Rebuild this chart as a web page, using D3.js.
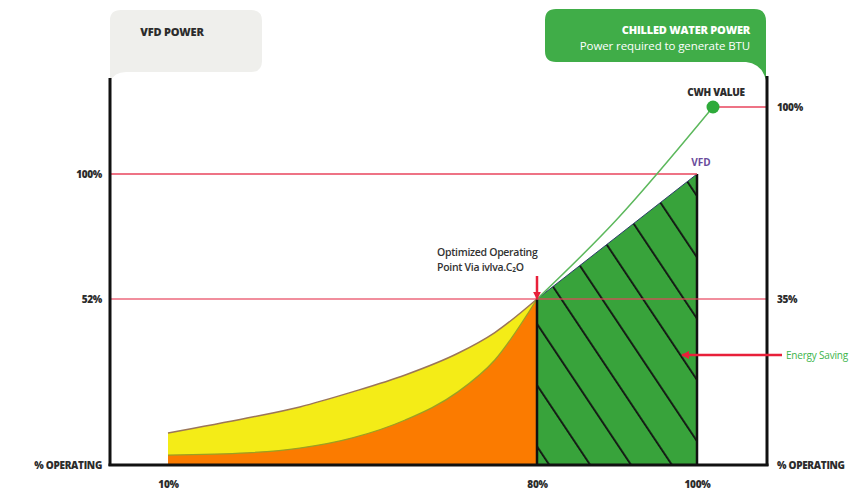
<!DOCTYPE html>
<html><head><meta charset="utf-8">
<script src="https://cdn.jsdelivr.net/npm/d3@7"></script>
<style>
body{margin:0;background:#fff;}
svg{display:block;font-family:"Open Sans",Lato,sans-serif;}
</style></head>
<body>
<svg id="c" width="860" height="493"></svg>
<script>
// ---- data ----
const xTicks = [10, 80, 100];
const xTickLabels = ["10%", "80%", "100%"];
const leftTicks = [52, 100];
const leftTickLabels = ["52%", "100%"];
const rightTicks = [35, 100];
const rightTickLabels = ["35%", "100%"];
// yellow: upper bound of VFD power curve (left scale %)
const yellowX = [10, 25, 35, 45, 55, 65, 72, 80];
const yellowY = [10.0, 14.7, 18.2, 22.9, 28.2, 35.0, 41.5, 52];
// orange: optimized power curve (left scale %)
const orangeX = [10, 25, 35, 45, 55, 65, 72, 80];
const orangeY = [3.1, 3.8, 5.3, 8.5, 14.1, 22.9, 32.9, 52];
// VFD green region top (left scale %)
const vfdX = [80, 100];
const vfdY = [52, 100];
// chilled water power line (right scale %)
const cwhX = [80, 90, 102];
const cwhY = [35, 62, 100];
const cwhPoint = {x: 102, y: 100};

const svg = d3.select("#c");
const x = d3.scaleLinear().domain([10, 80, 100]).range([168, 537, 697]);
const yL = d3.scaleLinear().domain([0, 52, 100]).range([465, 299, 174]);
const yR = d3.scaleLinear().domain([0, 35, 100]).range([465, 299, 107]);

const RED = "#e8455c";
const DARK = "#2c2c2c";
const defs = svg.append("defs");
const pat = defs.append("pattern").attr("id", "hatch").attr("patternUnits", "userSpaceOnUse")
  .attr("width", 34).attr("height", 34)
  .attr("patternTransform", "translate(630,465) rotate(-33.7)");
pat.append("rect").attr("width", 34).attr("height", 34).attr("fill", "#38a33b");
pat.append("line").attr("x1", 0).attr("x2", 0).attr("y1", 0).attr("y2", 34)
  .attr("stroke", "#111").attr("stroke-width", 3.6);
defs.append("marker").attr("id", "arrowR").attr("viewBox", "0 0 10 10").attr("refX", 9).attr("refY", 5)
  .attr("markerWidth", 3.2).attr("markerHeight", 3.2).attr("orient", "auto-start-reverse")
  .append("path").attr("d", "M0,0L10,5L0,10Z").attr("fill", "#e8203a");

// callout boxes
svg.append("path")
  .attr("d", "M110,82 L110,20 Q110,10 121,10 L251,10 Q262,10 262,21 L262,61 Q262,72 251,72 L126,72 Q114,72 110,82 Z")
  .attr("fill", "#efefec");
svg.append("text").attr("x", 172).attr("y", 36).attr("text-anchor", "middle")
  .attr("font-size", 11).attr("font-weight", 800).attr("letter-spacing", -0.2).attr("fill", DARK).text("VFD POWER");

svg.append("path")
  .attr("d", "M545,20 Q545,9 556,9 L754,9 Q766,9 766,21 L766,80 Q762,64 746,62 L556,62 Q545,62 545,51 Z")
  .attr("fill", "#40ad48");
svg.append("text").attr("x", 750).attr("y", 34).attr("text-anchor", "end")
  .attr("font-size", 11).attr("font-weight", 800).attr("letter-spacing", -0.2).attr("fill", "#fff").text("CHILLED WATER POWER");
svg.append("text").attr("x", 750).attr("y", 50).attr("text-anchor", "end")
  .attr("font-size", 11.5).attr("letter-spacing", -0.1).attr("fill", "#fff").text("Power required to generate BTU");

// areas
const ptsY = yellowX.map((d, i) => [d, yellowY[i]]);
const ptsO = orangeX.map((d, i) => [d, orangeY[i]]);
const ptsV = vfdX.map((d, i) => [d, vfdY[i]]);
const area = d3.area().x(d => x(d[0])).y0(yL(0)).y1(d => yL(d[1])).curve(d3.curveMonotoneX);
const lineL = d3.line().x(d => x(d[0])).y(d => yL(d[1])).curve(d3.curveMonotoneX);

svg.append("path").datum(ptsY).attr("d", area).attr("fill", "#f4ec17");
svg.append("path").datum(ptsY).attr("d", lineL).attr("fill", "none").attr("stroke", "#9b7658").attr("stroke-width", 1.5);
svg.append("path").datum(ptsO).attr("d", area).attr("fill", "#fb7b00");
svg.append("path").datum(ptsO).attr("d", lineL).attr("fill", "none").attr("stroke", "#9aa023").attr("stroke-width", 1.3);

svg.append("path").datum(ptsV).attr("d", d3.area().x(d => x(d[0])).y0(yL(0)).y1(d => yL(d[1])))
  .attr("fill", "url(#hatch)");
svg.append("path").datum(ptsV).attr("d", d3.line().x(d => x(d[0])).y(d => yL(d[1])))
  .attr("fill", "none").attr("stroke", "#2d3f6b").attr("stroke-width", 1);
// VFD region borders
svg.append("line").attr("x1", x(80)).attr("x2", x(80)).attr("y1", yL(52)).attr("y2", yL(0))
  .attr("stroke", "#111").attr("stroke-width", 2.5);
svg.append("line").attr("x1", x(100)).attr("x2", x(100)).attr("y1", yL(100)).attr("y2", yL(0))
  .attr("stroke", "#111").attr("stroke-width", 2.5);

// red reference lines
svg.append("line").attr("x1", 110).attr("x2", x(100)).attr("y1", yL(100)).attr("y2", yL(100))
  .attr("stroke", RED).attr("stroke-width", 1.3);
svg.append("line").attr("x1", 110).attr("x2", 767).attr("y1", yL(52)).attr("y2", yL(52))
  .attr("stroke", RED).attr("stroke-width", 1.3).attr("opacity", 0.8);
svg.append("line").attr("x1", x(cwhPoint.x)).attr("x2", 767).attr("y1", yR(100)).attr("y2", yR(100))
  .attr("stroke", RED).attr("stroke-width", 1.3);

// CWH line
const ptsC = cwhX.map((d, i) => [d, cwhY[i]]);
svg.append("path").datum(ptsC)
  .attr("d", d3.line().x(d => x(d[0])).y(d => yR(d[1])).curve(d3.curveCatmullRom))
  .attr("fill", "none").attr("stroke", "#5cb85c").attr("stroke-width", 1.5);
svg.append("circle").attr("cx", x(cwhPoint.x)).attr("cy", yR(cwhPoint.y)).attr("r", 6.5).attr("fill", "#2eaa3a");

// frame axes
svg.append("line").attr("x1", 110).attr("x2", 110).attr("y1", 78).attr("y2", 466).attr("stroke", "#111").attr("stroke-width", 3);
svg.append("line").attr("x1", 767).attr("x2", 767).attr("y1", 76).attr("y2", 466).attr("stroke", "#111").attr("stroke-width", 3);
svg.append("line").attr("x1", 108.5).attr("x2", 768.5).attr("y1", 465).attr("y2", 465).attr("stroke", "#111").attr("stroke-width", 3);

// axes (labels only)
const lab = {font: 10, fill: DARK};
const gL = svg.append("g").attr("transform", "translate(102,0)")
  .call(d3.axisLeft(yL).tickValues(leftTicks).tickSize(0).tickFormat((d, i) => leftTickLabels[i]));
const gR = svg.append("g").attr("transform", "translate(777,0)")
  .call(d3.axisRight(yR).tickValues(rightTicks).tickSize(0).tickFormat((d, i) => rightTickLabels[i]));
const gB = svg.append("g").attr("transform", "translate(0,478)")
  .call(d3.axisBottom(x).tickValues(xTicks).tickSize(0).tickFormat((d, i) => xTickLabels[i]));
[gL, gR, gB].forEach(g => {
  g.select(".domain").remove();
  g.selectAll("text").attr("font-size", lab.font).attr("font-weight", 800).attr("fill", lab.fill)
    .attr("letter-spacing", -0.3).attr("font-family", "'Open Sans', sans-serif");
});
gL.selectAll("text").attr("x", 0);
gR.selectAll("text").attr("x", 0);
svg.append("text").attr("x", 102).attr("y", 469).attr("text-anchor", "end")
  .attr("font-size", lab.font).attr("font-weight", 800).attr("letter-spacing", -0.3).attr("fill", lab.fill).text("% OPERATING");
svg.append("text").attr("x", 777).attr("y", 469).attr("text-anchor", "start")
  .attr("font-size", lab.font).attr("font-weight", 800).attr("letter-spacing", -0.3).attr("fill", lab.fill).text("% OPERATING");

// annotations
svg.append("text").attr("x", 716).attr("y", 96).attr("text-anchor", "middle")
  .attr("font-size", 10).attr("font-weight", 800).attr("letter-spacing", -0.3).attr("fill", DARK).text("CWH VALUE");
svg.append("text").attr("x", 701).attr("y", 166).attr("text-anchor", "middle")
  .attr("font-size", 10).attr("font-weight", 700).attr("fill", "#6a4c9c").text("VFD");
svg.append("text").attr("x", 437).attr("y", 256)
  .attr("font-size", 10.5).attr("font-weight", 600).attr("letter-spacing", -0.3).attr("fill", "#333").text("Optimized Operating");
svg.append("text").attr("x", 437).attr("y", 271)
  .attr("font-size", 10.5).attr("font-weight", 600).attr("letter-spacing", -0.3).attr("fill", "#333").text("Point Via ivlva.C\u2082O");
svg.append("line").attr("x1", x(80)).attr("x2", x(80)).attr("y1", 276).attr("y2", 299)
  .attr("stroke", "#e8203a").attr("stroke-width", 2.5).attr("marker-end", "url(#arrowR)");
svg.append("line").attr("x1", 782).attr("x2", 682).attr("y1", 355).attr("y2", 355)
  .attr("stroke", "#e8203a").attr("stroke-width", 2.5).attr("marker-end", "url(#arrowR)");
svg.append("text").attr("x", 786).attr("y", 359)
  .attr("font-size", 10).attr("letter-spacing", -0.2).attr("fill", "#3cb44b").text("Energy Saving");
</script>
</body></html>
